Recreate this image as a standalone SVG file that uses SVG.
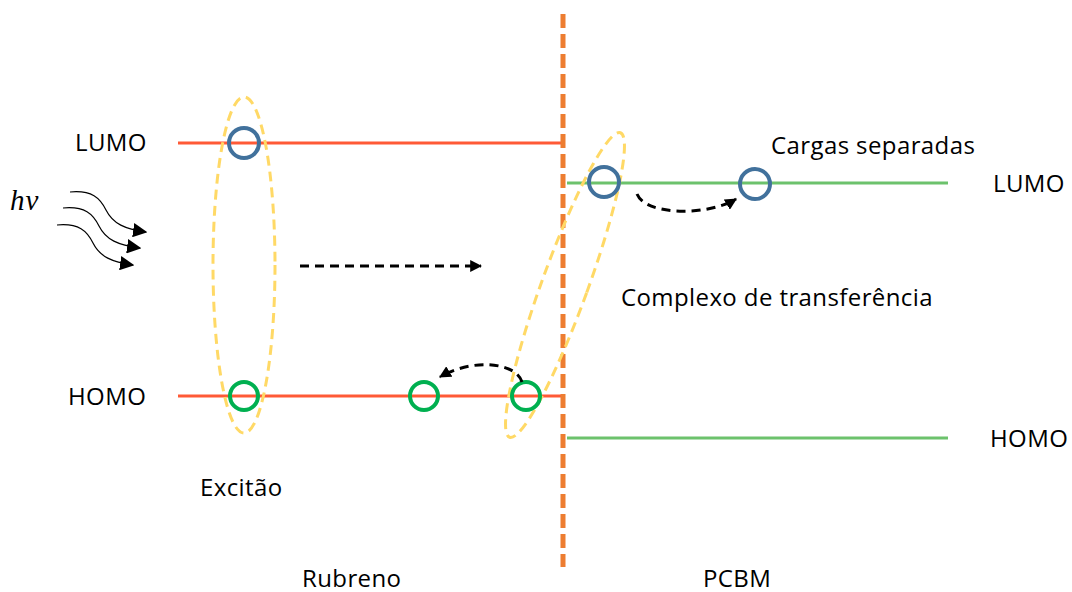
<svg xmlns="http://www.w3.org/2000/svg" width="1072" height="592" viewBox="0 0 1072 592">
<style>
.t{font-family:"Open Sans","Liberation Sans",sans-serif;font-size:24px;letter-spacing:0.4px;fill:#000}
.red{stroke:#FF5A36;stroke-width:3;fill:none}
.grn{stroke:#6CC26C;stroke-width:3;fill:none}
.bc{stroke:#41719C;stroke-width:4;fill:none}
.gc{stroke:#00B050;stroke-width:4;fill:none}
.ell{stroke:#FFD966;stroke-width:3;fill:none;stroke-dasharray:10 6}
.dash{stroke:#000;stroke-width:3;fill:none;stroke-dasharray:9 6}
.wave{stroke:#000;stroke-width:1.2;fill:none}
</style>
<defs>
<marker id="ah" viewBox="0 0 10 10" refX="9" refY="5" markerWidth="4" markerHeight="4" orient="auto" markerUnits="strokeWidth">
<path d="M0,0 L10,5 L0,10 z" fill="#000"/>
</marker>
<marker id="ahw" viewBox="0 0 10 10" refX="9" refY="5" markerWidth="12" markerHeight="12" orient="auto" markerUnits="strokeWidth">
<path d="M0,0 L10,5 L0,10 z" fill="#000"/>
</marker>
</defs>
<g id="levels">
<line class="red" x1="178" y1="143" x2="563" y2="143"/>
<line class="red" x1="178" y1="396" x2="563" y2="396"/>
<line class="grn" x1="567" y1="183" x2="948" y2="183"/>
<line class="grn" x1="567" y1="438" x2="948" y2="438"/>
</g>
<g id="interface">
<line x1="563" y1="14" x2="563" y2="567" stroke="#ED7D31" stroke-width="5" stroke-dasharray="14 6"/>
</g>
<g id="exciton">
<ellipse class="ell" cx="244" cy="265" rx="31" ry="168"/>
</g>
<g id="complex">
<ellipse class="ell" cx="565" cy="285" rx="23" ry="162" transform="rotate(20 565 285)"/>
</g>
<g id="particles">
<circle class="bc" cx="244" cy="143" r="15"/>
<circle class="bc" cx="604" cy="182" r="15"/>
<circle class="bc" cx="755" cy="184" r="15"/>
<circle class="gc" cx="244" cy="396" r="14"/>
<circle class="gc" cx="424" cy="396" r="14"/>
<circle class="gc" cx="526" cy="396" r="14"/>
</g>
<g id="connectors">
<path class="wave" d="M70,192 C92,190 100,198 106,210 C113,224 125,229 146,232" marker-end="url(#ahw)"/>
<path class="wave" d="M63,208 C85,206 93,214 99,226 C106,240 118,245 140,248" marker-end="url(#ahw)"/>
<path class="wave" d="M57,225 C79,223 87,231 93,243 C100,257 112,262 133,265" marker-end="url(#ahw)"/>
<path class="dash" d="M300,266 L481,266" marker-end="url(#ah)"/>
<path class="dash" d="M522,382 C516,362 472,358 440,377" marker-end="url(#ah)"/>
<path class="dash" d="M637,194 C646,216 708,216 736,199" marker-end="url(#ah)"/>
</g>
<g id="labels">
<text class="t" x="75" y="151">LUMO</text>
<text class="t" x="68" y="405">HOMO</text>
<text class="t" x="993" y="192">LUMO</text>
<text class="t" x="990" y="447">HOMO</text>
<text class="t" x="771" y="154">Cargas separadas</text>
<text class="t" x="621" y="306">Complexo de transferência</text>
<text class="t" x="200" y="496">Excitão</text>
<text class="t" x="302" y="587">Rubreno</text>
<text class="t" x="703" y="587">PCBM</text>
<text x="10" y="210" font-family="Liberation Serif,serif" font-style="italic" font-size="29" letter-spacing="1">hν</text>
</g>
</svg>
